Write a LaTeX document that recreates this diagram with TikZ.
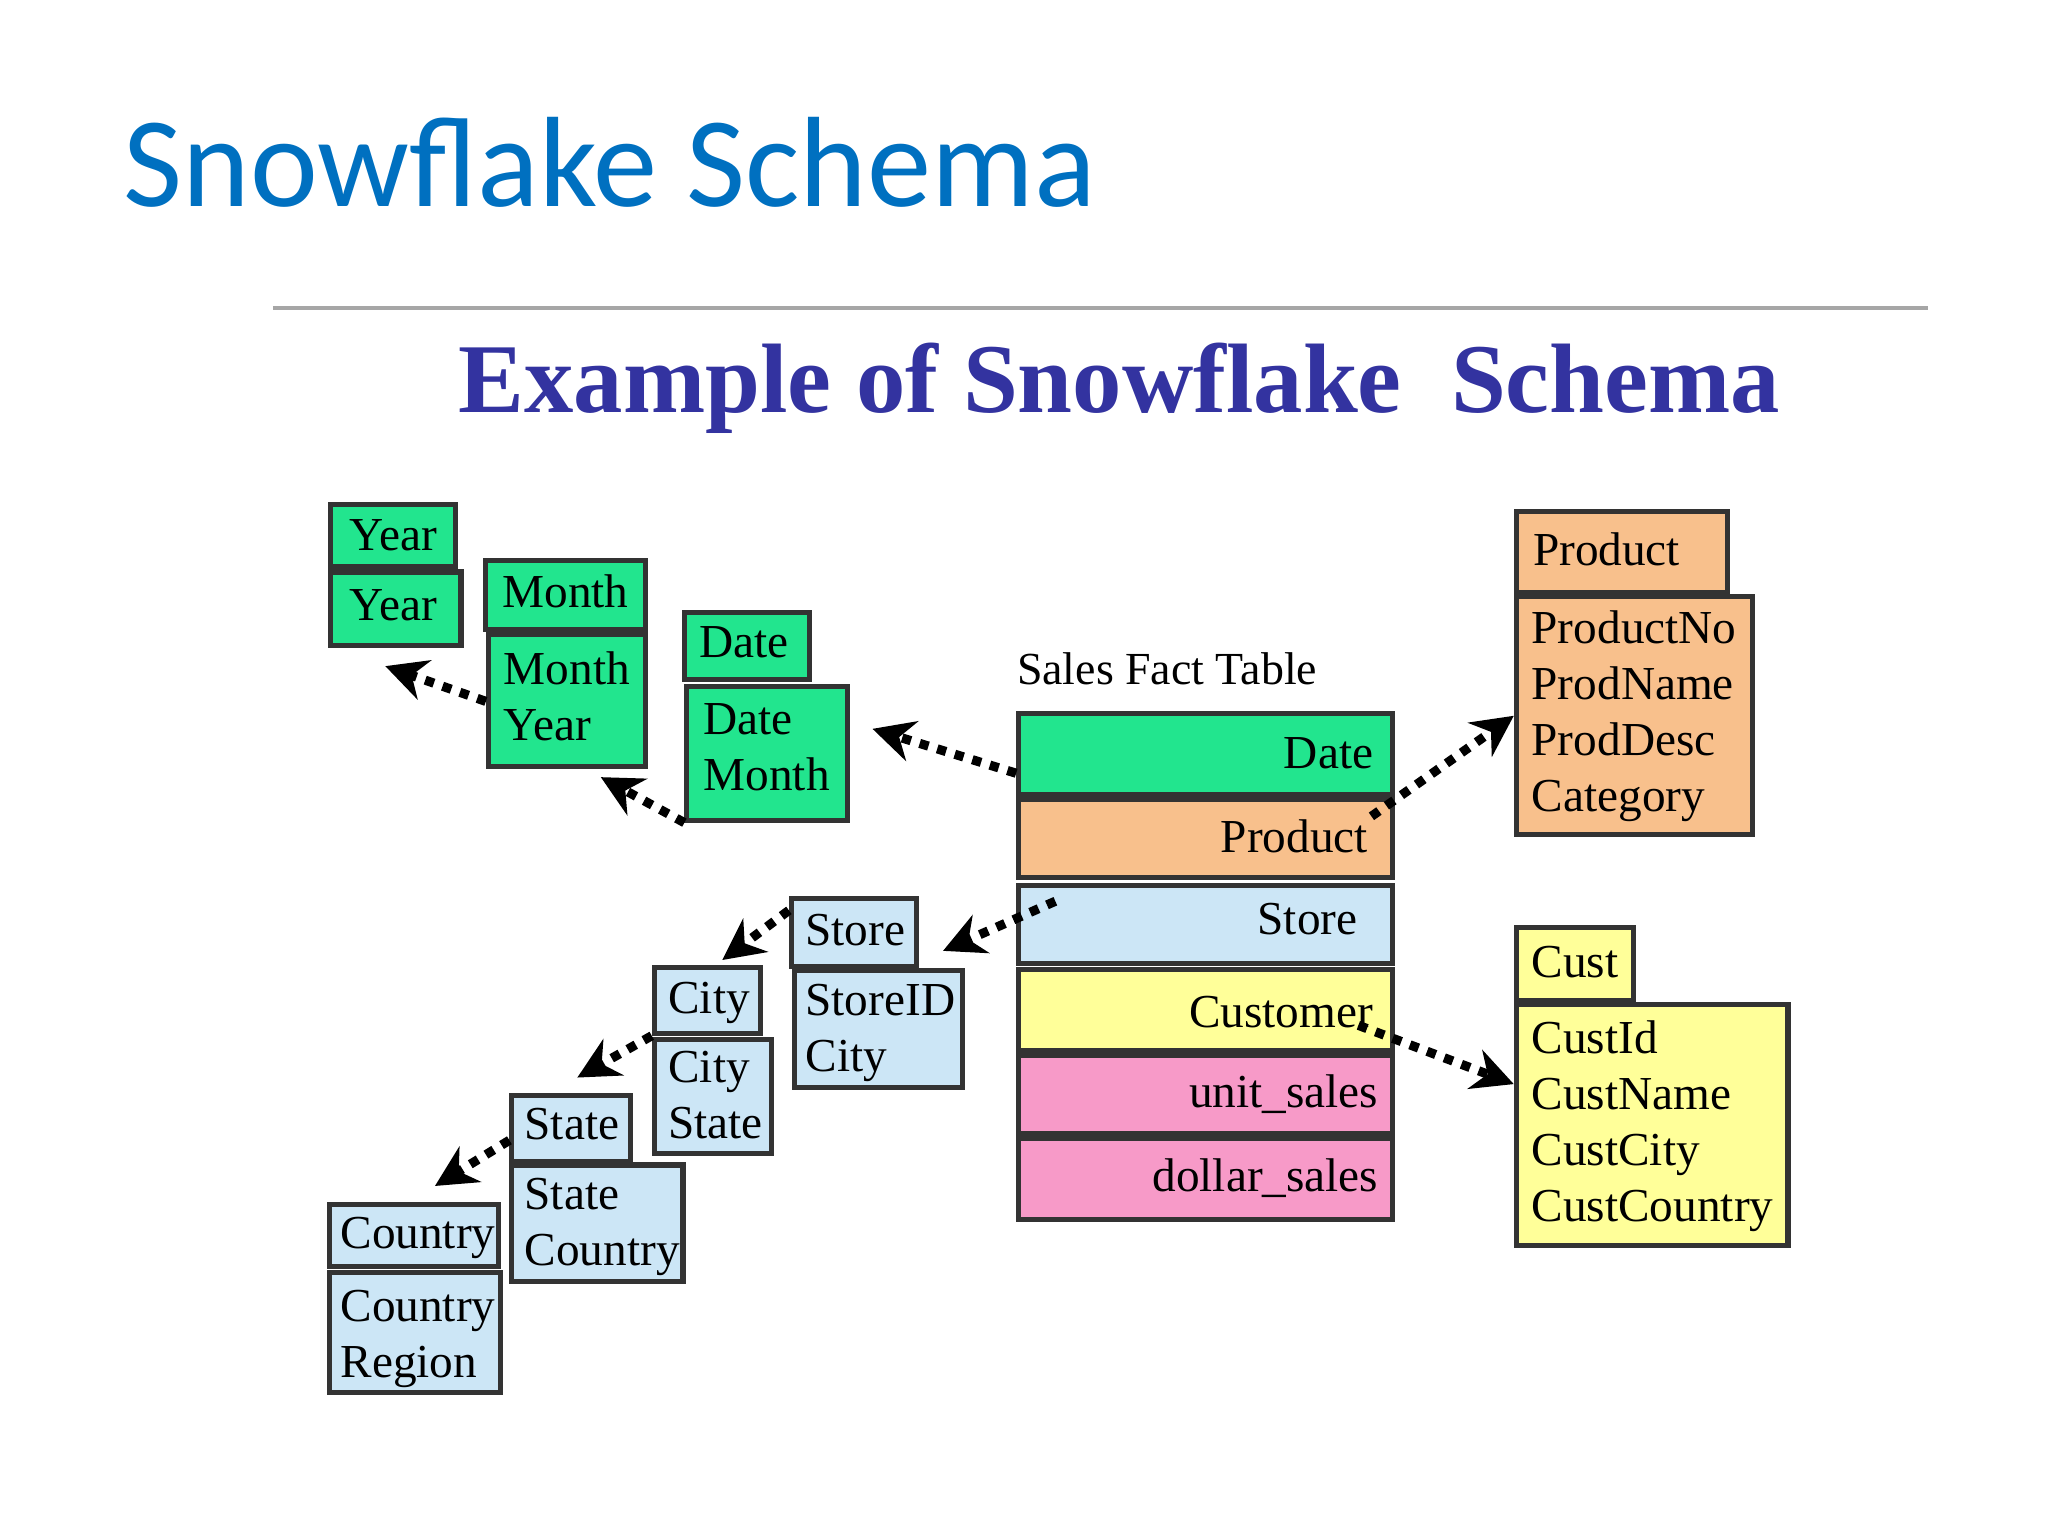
\documentclass[tikz,border=0pt]{standalone}
\usepackage{fontspec}
\setmainfont{Liberation Serif}
\newfontfamily\titlefont{Carlito}
\usetikzlibrary{arrows.meta}
\definecolor{tg}{RGB}{34,229,142}
\definecolor{to}{RGB}{248,192,140}
\definecolor{tb}{RGB}{204,230,246}
\definecolor{ty}{RGB}{255,255,153}
\definecolor{tp}{RGB}{247,154,200}
\definecolor{tt}{RGB}{0,112,192}
\definecolor{ts}{RGB}{51,51,160}
\tikzset{
 tbl/.style={draw=black!80,line width=1.1pt,inner sep=0pt},
 txt/.style={font=\fontsize{10.3}{12.2}\selectfont,align=left,anchor=north west,inner sep=0pt},
 rtxt/.style={font=\fontsize{10.3}{12}\selectfont,anchor=east,inner sep=0pt},
 lnk/.style={dotted,line width=2pt,-{Stealth[length=9pt,width=9pt]}}
}
\newcommand\bx[6]{\node[tbl,fill=#6,anchor=north west,minimum width={(#4-#2)*0.1mm},minimum height={(#5-#3)*0.1mm}] (#1) at (#2,#3) {};}
\begin{document}
\begin{tikzpicture}[x=0.1mm,y=-0.1mm]
\useasboundingbox (0,0) rectangle (1568,1176);
\node[anchor=west,text=tt,font=\titlefont\fontsize{28}{32}\selectfont,inner sep=0pt] (title) at (94,124) {Snowflake Schema};
\draw[black!35,line width=0.8pt] (209,236) coordinate (l1) -- (1476,236) coordinate (l2);
\node[text=ts,font=\bfseries\fontsize{21.5}{24}\selectfont,inner sep=0pt] (sub) at (857,297) {Example of Snowflake~~Schema};
% time
\bx{yh}{251}{384}{347}{432}{tg}\node[txt] at (267,397) {Year};
\bx{yb}{251}{436}{351}{492}{tg}\node[txt] at (267,451) {Year};
\bx{mh}{370}{427}{492}{480}{tg}\node[txt] at (384,439) {Month};
\bx{mb}{372}{484}{492}{585}{tg}\node[txt] at (385,498) {Month\\Year};
\bx{dh}{522}{467}{618}{518}{tg}\node[txt] at (535,479) {Date};
\bx{db}{524}{524}{647}{626}{tg}\node[txt] at (538,538) {Date\\Month};
% fact
\node[anchor=west,inner sep=0pt,font=\fontsize{10}{12}\selectfont] (sft) at (778,512) {Sales Fact Table};
\bx{fd}{778}{544}{1064}{606}{tg}\node[rtxt] at (1052,577) {Date};
\bx{fp}{778}{610}{1064}{670}{to}\node[rtxt] at (1048,640) {Product};
\bx{fs}{778}{676}{1064}{736}{tb}\node[rtxt] at (1040,704) {Store};
\bx{fc}{778}{740}{1064}{802}{ty}\node[rtxt] at (1052,775) {Customer};
\bx{fu}{778}{806}{1064}{866}{tp}\node[rtxt] at (1056,838) {unit\_sales};
\bx{fl}{778}{870}{1064}{932}{tp}\node[rtxt] at (1056,902) {dollar\_sales};
% product
\bx{ph}{1159}{390}{1321}{452}{to}\node[txt] at (1173,407) {Product};
\bx{pb}{1159}{455}{1340}{637}{to}\node[txt] at (1172,467) {ProductNo\\ProdName\\ProdDesc\\Category};
% cust
\bx{ch}{1159}{708}{1249}{764}{ty}\node[txt] at (1172,724) {Cust};
\bx{cb}{1159}{767}{1367}{952}{ty}\node[txt] at (1172,781) {CustId\\CustName\\CustCity\\CustCountry};
% location
\bx{sh}{604}{686}{700}{738}{tb}\node[txt] at (616,699) {Store};
\bx{sb}{606}{741}{735}{831}{tb}\node[txt] at (616,753) {StoreID\\City};
\bx{cih}{499}{739}{580}{789}{tb}\node[txt] at (511,751) {City};
\bx{cib}{499}{794}{589}{881}{tb}\node[txt] at (511,804) {City\\State};
\bx{sth}{390}{837}{481}{887}{tb}\node[txt] at (401,848) {State};
\bx{stb}{390}{890}{521}{979}{tb}\node[txt] at (401,901) {State\\Country};
\bx{coh}{250}{920}{380}{968}{tb}\node[txt] at (260,931) {Country};
\bx{cob}{250}{972}{381}{1064}{tb}\node[txt] at (260,987) {Country\\Region};
% links
\draw[lnk] (fd.west|-0,592) -- (668,558);
\draw[lnk] (db.south west) -- (460,595);
\draw[lnk] (mb.west|-0,537) -- (295,510);
\draw[lnk] (1050,625) -- (pb.west|-0,548);
\draw[lnk] (1040,785) -- (cb.west|-0,830);
\draw[lnk] (808,690) -- (722,728);
\draw[lnk] (sh.west|-0,697) -- (553,735);
\draw[lnk] (cih.west|-0,793) -- (442,825);
\draw[lnk] (sth.west|-0,873) -- (333,908);
\end{tikzpicture}
\end{document}
